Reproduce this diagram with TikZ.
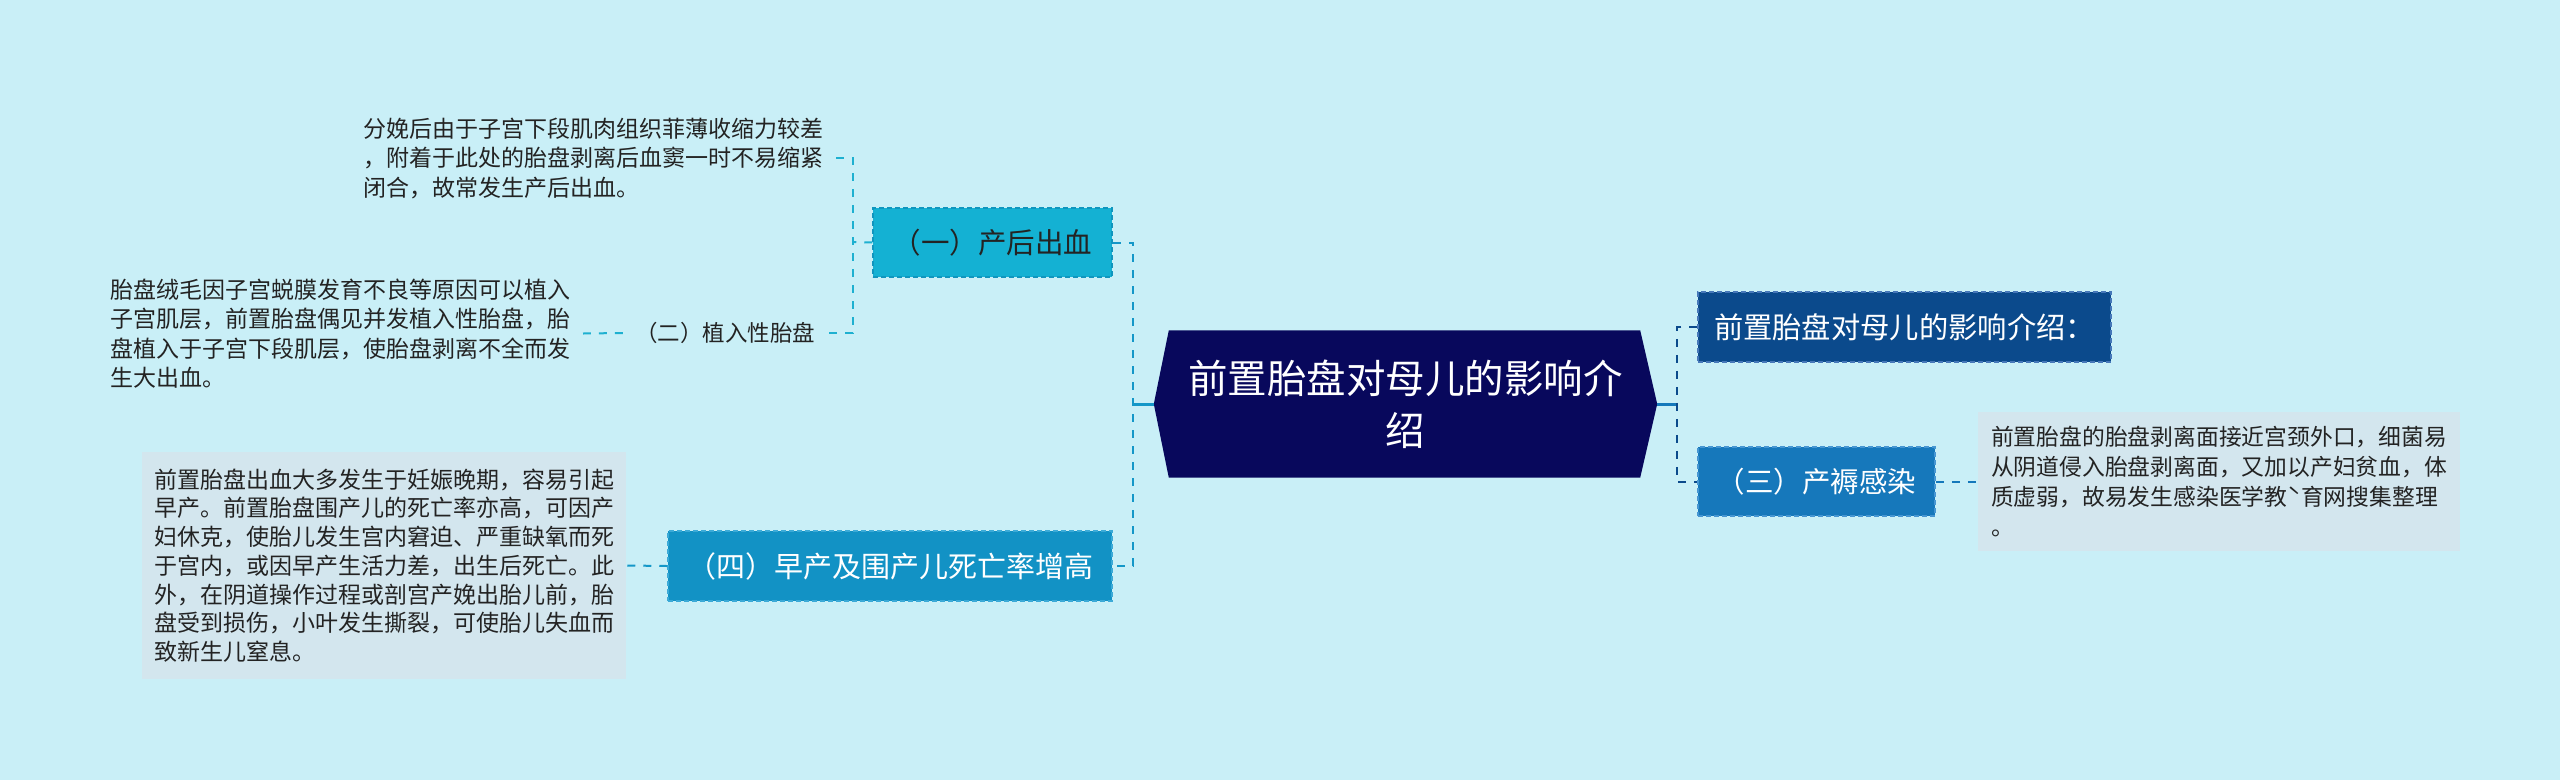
\documentclass[tikz,border=0pt]{standalone}
\usepackage{fontspec}
\setmainfont{Noto Sans CJK SC}
\usetikzlibrary{backgrounds}
\definecolor{bgc}{RGB}{201,239,247}
\definecolor{navy}{RGB}{8,8,92}
\definecolor{r1c}{RGB}{11,74,140}
\definecolor{r1b}{RGB}{70,120,185}
\definecolor{r2c}{RGB}{22,120,187}
\definecolor{r2b}{RGB}{70,150,210}
\definecolor{l1c}{RGB}{20,177,211}
\definecolor{l1b}{RGB}{16,150,190}
\definecolor{l4c}{RGB}{18,146,197}
\definecolor{l4b}{RGB}{60,170,215}
\definecolor{tbc}{RGB}{211,230,238}
\definecolor{txt}{RGB}{35,35,35}
\definecolor{ltrc}{RGB}{20,151,200}
\definecolor{lbrc}{RGB}{30,176,208}
\definecolor{rtrc}{RGB}{11,74,140}
\definecolor{rbrc}{RGB}{20,120,187}
\begin{document}
\begin{tikzpicture}[x=1pt,y=-1pt,
  boxnode/.style={inner sep=0pt, minimum height=70pt, line width=1.5pt, dash pattern=on 5pt off 3pt},
  smalltext/.style={text=txt, align=left, inner xsep=12pt, font=\fontsize{23}{29.5}\selectfont},
  conn/.style={line width=2pt, dash pattern=on 8pt off 8pt},
  stub/.style={line width=3pt}]
\useasboundingbox (0,0) rectangle (2560,780);

% central node
\node[minimum width=503pt, minimum height=147pt, inner sep=0pt, text=white,
      font=\fontsize{39.5}{52}\selectfont, align=center] (c) at (1405.5,404) {前置胎盘对母儿的影响介\\绍};
\begin{scope}[on background layer]
  \fill[bgc] (0,0) rectangle (2560,780);
  \fill[navy] (c.west) -- ([xshift=15pt]c.north west) -- ([xshift=-17pt]c.north east) -- (c.east)
     -- ([xshift=-17pt]c.south east) -- ([xshift=15pt]c.south west) -- cycle;
\end{scope}

% right side
\node[boxnode, fill=r1c, draw=r1b, minimum width=413pt, text=white,
      font=\fontsize{29.3}{34}\selectfont] (r1) at (1904.5,327) {前置胎盘对母儿的影响介绍：};
\node[boxnode, fill=r2c, draw=r2b, minimum width=237pt, minimum height=69pt, text=white,
      font=\fontsize{28.5}{34}\selectfont] (r2) at (1816.5,481.5) {（三）产褥感染};
\node[smalltext, fill=tbc, inner xsep=13pt, inner ysep=14pt, font=\fontsize{22.8}{30}\selectfont]
      (rtx) at (2219,481.5) {前置胎盘的胎盘剥离面接近宫颈外口，细菌易\\从阴道侵入胎盘剥离面，又加以产妇贫血，体\\质虚弱，故易发生感染医学教ˋ育网搜集整理\\。};

% left side
\node[boxnode, fill=l1c, draw=l1b, minimum width=239pt, minimum height=69pt, text=txt,
      font=\fontsize{28.5}{34}\selectfont] (l1) at (992.5,242.5) {（一）产后出血};
\node[boxnode, fill=l4c, draw=l4b, minimum width=444pt, text=white,
      font=\fontsize{29}{34}\selectfont] (l4) at (890,566) {（四）早产及围产儿死亡率增高};
\node[smalltext, anchor=east] (l1a) at (836,158) {分娩后由于子宫下段肌肉组织菲薄收缩力较差\\，附着于此处的胎盘剥离后血窦一时不易缩紧\\闭合，故常发生产后出血。};
\node[text=txt, inner xsep=12pt, font=\fontsize{22.5}{28}\selectfont] (l2) at (725,333) {（二）植入性胎盘};
\node[smalltext, anchor=east] (l2a) at (583,333.5) {胎盘绒毛因子宫蜕膜发育不良等原因可以植入\\子宫肌层，前置胎盘偶见并发植入性胎盘，胎\\盘植入于子宫下段肌层，使胎盘剥离不全而发\\生大出血。};
\node[smalltext, fill=tbc, inner ysep=17pt, font=\fontsize{23}{28.7}\selectfont] (l4a) at (384,565.5) {前置胎盘出血大多发生于妊娠晚期，容易引起\\早产。前置胎盘围产儿的死亡率亦高，可因产\\妇休克，使胎儿发生宫内窘迫、严重缺氧而死\\于宫内，或因早产生活力差，出生后死亡。此\\外，在阴道操作过程或剖宫产娩出胎儿前，胎\\盘受到损伤，小叶发生撕裂，可使胎儿失血而\\致新生儿窒息。};

% trunk coordinates
\coordinate (lt) at (1133,404);
\coordinate (lb) at (853,242);
\coordinate (rt) at (1677,404);

% connectors left
\draw[stub, ltrc] (c.west) -- (lt);
\draw[conn, ltrc] (l1.east) -- (l1.east -| lt) -- (l4.east -| lt) -- (l4.east);
\draw[conn, lbrc] (l1.west) -- (lb);
\draw[conn, lbrc] (l1a.east) -- (l1a.east -| lb) -- (l2.east -| lb) -- (l2.east);
\draw[conn, lbrc] (l2.west) -- (l2a.east);
\draw[conn, ltrc] (l4.west) -- (l4a.east);

% connectors right
\draw[stub, rbrc] (c.east) -- (rt);
\draw[conn, rtrc] (r1.west) -- (r1.west -| rt) -- (r2.west -| rt) -- (r2.west);
\draw[conn, rbrc] (r2.east) -- (rtx.west);
\end{tikzpicture}
\end{document}
